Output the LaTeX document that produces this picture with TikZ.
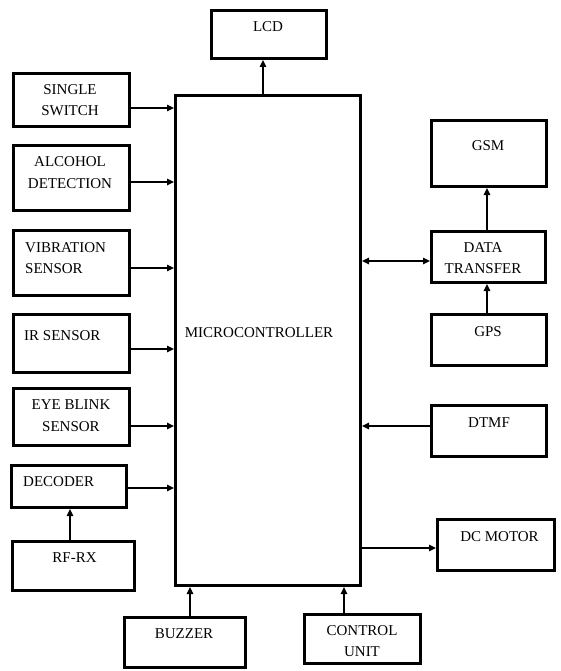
\documentclass[tikz,border=0pt]{standalone}
\usepackage{fontspec}
\setmainfont{Liberation Serif}
\usetikzlibrary{arrows.meta}
\tikzset{
  blk/.style={draw=black, line width=2.8pt, inner sep=0pt, fill=white},
  txt/.style={inner sep=0pt, font=\fontsize{15}{21.5}\selectfont, text=black},
  arr/.style={line width=1.4pt, -{Triangle[length=7pt,width=6.5pt]}},
  darr/.style={line width=1.4pt, {Triangle[length=7pt,width=6.5pt]}-{Triangle[length=7pt,width=6.5pt]}}
}
\newcommand\mkblk[5]{\node[blk, minimum width={#4-#2-2.8}, minimum height={#5-#3-2.8}] (#1) at ({(#2+#4)/2},{(#3+#5)/2}) {};}
\begin{document}
\begin{tikzpicture}[x=1pt,y=-1pt]
\useasboundingbox (0,0) rectangle (561,671);
% boxes
\mkblk{lcd}{210}{9}{328}{60}
\mkblk{mcu}{174}{94}{362}{587}
\mkblk{ss}{12}{72}{131}{128}
\mkblk{alc}{12}{144}{131}{212}
\mkblk{vib}{12}{229}{131}{297}
\mkblk{ir}{12}{313}{131}{374}
\mkblk{eye}{12}{387}{131}{447}
\mkblk{dec}{10}{464}{128}{509}
\mkblk{rf}{11}{540}{136}{592}
\mkblk{buz}{123}{616}{247}{669}
\mkblk{cu}{303}{613}{422}{665}
\mkblk{gsm}{430}{119}{548}{188}
\mkblk{dt}{430}{230}{547}{284}
\mkblk{gps}{430}{313}{548}{367}
\mkblk{dtmf}{430}{404}{548}{458}
\mkblk{dcm}{436}{518}{556}{572}
% texts
\node[txt] (tlcd) at (268,27) {LCD};
\node[txt] (tmcu) at (259,333) {MICROCONTROLLER};
\node[txt, align=center] (tss) at (70,100) {SINGLE\\SWITCH};
\node[txt, align=center] (talc) at (70,172.5) {ALCOHOL\\DETECTION};
\node[txt, align=left, anchor=west] (tvib) at (25,258) {VIBRATION\\SENSOR};
\node[txt, anchor=west] (tir) at (24,336) {IR SENSOR};
\node[txt, align=center] (teye) at (71,415.5) {EYE BLINK\\SENSOR};
\node[txt, anchor=west] (tdec) at (23,482) {DECODER};
\node[txt] (trf) at (74.5,558) {RF-RX};
\node[txt] (tbuz) at (184,634) {BUZZER};
\node[txt, align=center] (tcu) at (362,641) {CONTROL\\UNIT};
\node[txt] (tgsm) at (488,146) {GSM};
\node[txt, align=center] (tdt) at (483,258) {DATA\\TRANSFER};
\node[txt] (tgps) at (488,332) {GPS};
\node[txt] (tdtmf) at (489,423) {DTMF};
\node[txt] (tdcm) at (499.5,537) {DC MOTOR};
% connectors
\draw[arr] (ss.east |- 0,108) -- (mcu.west |- 0,108);
\draw[arr] (alc.east |- 0,182) -- (mcu.west |- 0,182);
\draw[arr] (vib.east |- 0,268) -- (mcu.west |- 0,268);
\draw[arr] (ir.east |- 0,349) -- (mcu.west |- 0,349);
\draw[arr] (eye.east |- 0,426) -- (mcu.west |- 0,426);
\draw[arr] (dec.east |- 0,488) -- (mcu.west |- 0,488);
\draw[arr] (rf.north -| 70,0) -- (dec.south -| 70,0);
\draw[arr] (buz.north -| 190,0) -- (mcu.south -| 190,0);
\draw[arr] (cu.north -| 344,0) -- (mcu.south -| 344,0);
\draw[arr] (mcu.north -| 263,0) -- (lcd.south -| 263,0);
\draw[darr] (mcu.east |- 0,261) -- (dt.west |- 0,261);
\draw[arr] (dt.north -| 487,0) -- (gsm.south -| 487,0);
\draw[arr] (gps.north -| 487,0) -- (dt.south -| 487,0);
\draw[arr] (dtmf.west |- 0,426) -- (mcu.east |- 0,426);
\draw[arr] (mcu.east |- 0,548) -- (dcm.west |- 0,548);
\end{tikzpicture}
\end{document}
